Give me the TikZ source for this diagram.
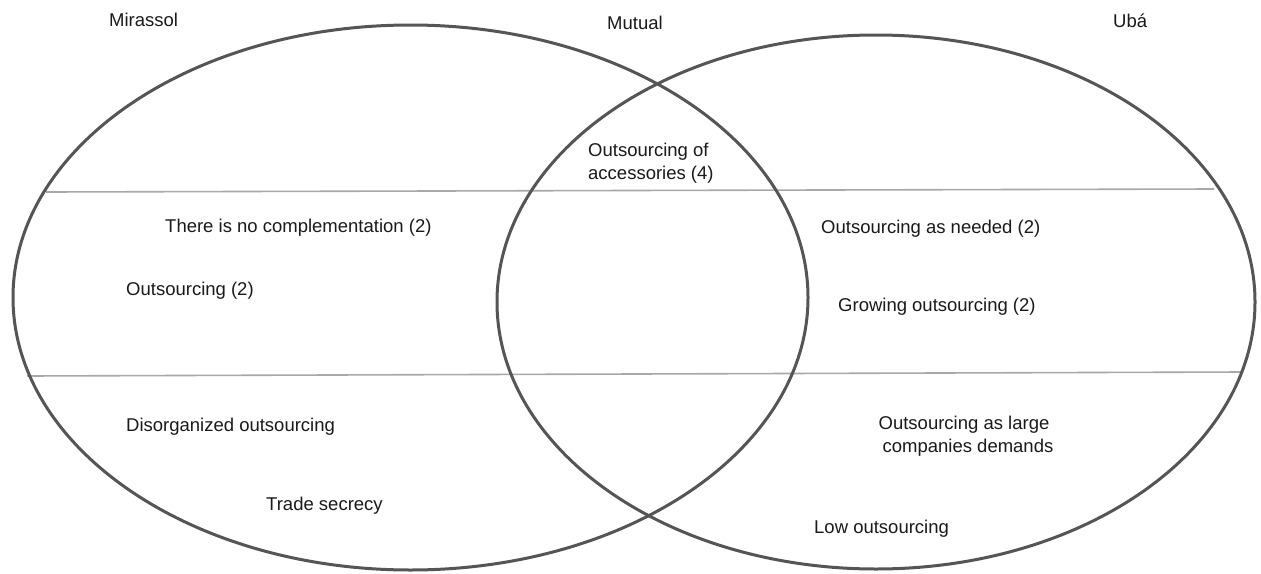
\documentclass[tikz,border=0pt]{standalone}
\usepackage{fontspec}
\setmainfont{Liberation Sans}
\usetikzlibrary{shapes.geometric}
\definecolor{ringgray}{HTML}{555555}
\definecolor{linegray}{HTML}{A8A8A8}
\definecolor{txt}{HTML}{1A1A1A}
\begin{document}
\begin{tikzpicture}[x=1pt,y=-1pt,
  ring/.style={draw=ringgray, line width=3pt, ellipse, inner sep=0pt},
  divider/.style={draw=linegray, line width=1.6pt},
  lbl/.style={anchor=base west, inner sep=0pt, font=\fontsize{18.5}{23}\selectfont, text=txt}]
\useasboundingbox[fill=white] (0,0) rectangle (1261,573);

% dividing lines
\coordinate (d1a) at (46,192);
\coordinate (d1b) at (1214,189);
\coordinate (d2a) at (27,376);
\coordinate (d2b) at (1243,372);
\draw[divider] (d1a) -- (d1b);
\draw[divider] (d2a) -- (d2b);

% circles
\node[ring, minimum width=795pt, minimum height=545pt] (mir) at (410.5,297.5) {};
\node[ring, minimum width=758pt, minimum height=534pt] (uba) at (876,302) {};

% headings
\node[lbl] (tMir) at (109,26) {Mirassol};
\node[lbl] (tMut) at (607,29) {Mutual};
\node[lbl] (tUba) at (1113,27) {Ubá};

% mutual
\node[lbl] (acc1) at (588,156) {Outsourcing of};
\node[lbl] (acc2) at (588,179) {accessories (4)};

% Mirassol
\node[lbl] (m1) at (165,232) {There is no complementation (2)};
\node[lbl] (m2) at (126,295) {Outsourcing (2)};
\node[lbl] (m3) at (126,431) {Disorganized outsourcing};
\node[lbl] (m4) at (266,510) {Trade secrecy};

% Ubá
\node[lbl] (u1) at (821,233) {Outsourcing as needed (2)};
\node[lbl] (u2) at (838,311) {Growing outsourcing (2)};
\node[lbl, anchor=base] (u3a) at (964,429) {Outsourcing as large};
\node[lbl, anchor=base] (u3b) at (968,452) {companies demands};
\node[lbl] (u4) at (814,533) {Low outsourcing};
\end{tikzpicture}
\end{document}
